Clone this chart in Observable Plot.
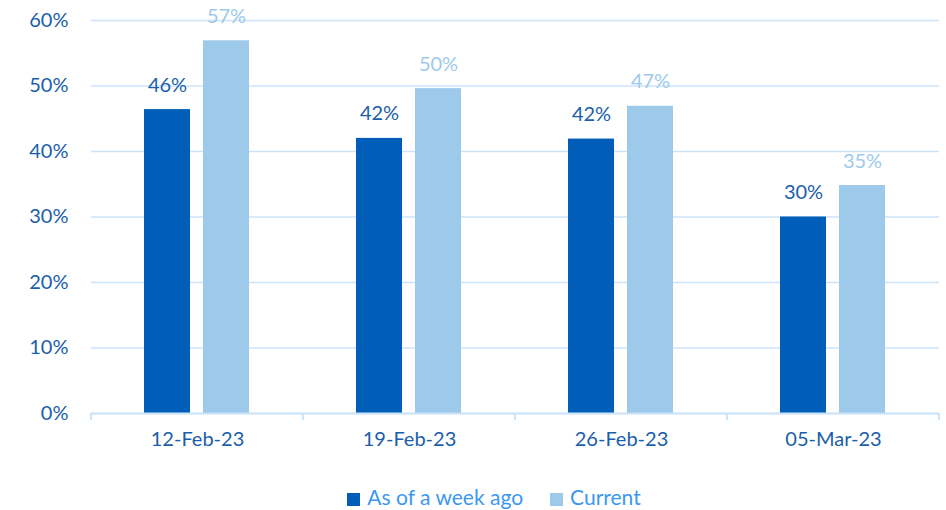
<!DOCTYPE html>
<html>
<head>
<meta charset="utf-8">
<script src="https://cdn.jsdelivr.net/npm/d3@7"></script>
<script src="https://cdn.jsdelivr.net/npm/@observablehq/plot@0.6"></script>
<style>
  body { margin: 0; background: #fff; font-family: Lato, "Open Sans", sans-serif; }
  #legend { display: flex; justify-content: center; align-items: center; gap: 27px; height: 40px; margin-top: 6px; margin-left: 42px;
            font-size: 21px; color: #3B97F2; }
  #legend span.sw { display: inline-block; width: 13px; height: 13px; margin-right: 7px; vertical-align: -1px; }
</style>
</head>
<body>
<div id="chart"></div>
<div id="legend"></div>
<script>
const dates = ["12-Feb-23", "19-Feb-23", "26-Feb-23", "05-Mar-23"];
const seriesNames = ["As of a week ago", "Current"];
const weekAgo = [0.464, 0.420, 0.419, 0.300];
const current = [0.569, 0.496, 0.469, 0.348];
const yTicks = [0, 0.1, 0.2, 0.3, 0.4, 0.5, 0.6];
const colors = ["#005EB8", "#9DCAEB"];

const rows = [];
dates.forEach((d, i) => {
  rows.push({date: d, series: seriesNames[0], value: weekAgo[i]});
  rows.push({date: d, series: seriesNames[1], value: current[i]});
});

const textBlue = "#1A5EAB";
const gridColor = "#CCE4F8";
const fmt = d3.format(".0%");

const chart = Plot.plot({
  width: 946,
  height: 470,
  marginLeft: 90,
  marginRight: 6,
  marginTop: 20,
  marginBottom: 57,
  style: {fontFamily: "Lato, 'Open Sans', sans-serif", fontSize: "20px", color: textBlue, background: "#fff"},
  fx: {domain: dates, padding: 0, label: null},
  x: {domain: seriesNames, paddingInner: 0.217, paddingOuter: 0.88, axis: null},
  y: {domain: [0, 0.6], label: null},
  color: {domain: seriesNames, range: colors},
  marks: [
    Plot.gridY(yTicks, {stroke: gridColor, strokeOpacity: 1, strokeWidth: 1.5}),
    Plot.axisY(yTicks, {tickSize: 0, tickPadding: 23, tickFormat: fmt, fill: textBlue, fontSize: 20, label: null}),
    Plot.axisFx({anchor: "bottom", tickSize: 0, tickPadding: 18, fill: textBlue, fontSize: 20, label: null}),
    Plot.barY(rows, {fx: "date", x: "series", y: "value", fill: "series"}),
    Plot.ruleY([0], {stroke: gridColor, strokeWidth: 2}),
    Plot.text(rows, {fx: "date", x: "series", y: "value", text: d => fmt(d.value),
      fill: d => d.series === seriesNames[0] ? textBlue : colors[1],
      lineAnchor: "bottom", dy: -18, fontSize: 20})
  ]
});
document.getElementById("chart").appendChild(chart);

// boundary ticks under the baseline, from the fx scale
const fx = chart.scale("fx");
const y = chart.scale("y");
const svg = d3.select(chart.tagName.toLowerCase() === "svg" ? chart : chart.querySelector("svg"));
const bounds = dates.map(d => fx.apply(d)).concat([fx.apply(dates[dates.length - 1]) + fx.step]);
const y0 = y.apply(0);
svg.append("g").selectAll("line").data(bounds).join("line")
  .attr("x1", d => d).attr("x2", d => d)
  .attr("y1", y0).attr("y2", y0 + 7)
  .attr("stroke", gridColor).attr("stroke-width", 2);

const legend = document.getElementById("legend");
seriesNames.forEach((s, i) => {
  const item = document.createElement("div");
  item.innerHTML = `<span class="sw" style="background:${colors[i]}"></span>${s}`;
  legend.appendChild(item);
});
</script>
</body>
</html>
